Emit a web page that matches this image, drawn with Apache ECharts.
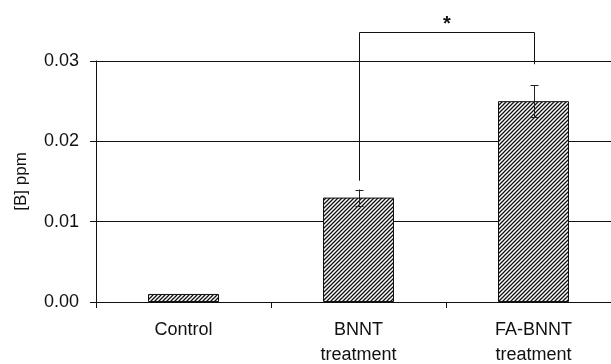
<!DOCTYPE html>
<html><head><meta charset="utf-8">
<script src="https://cdn.jsdelivr.net/npm/echarts@6/dist/echarts.min.js"></script>
<style>html,body{margin:0;padding:0;background:#fff}#c{width:611px;height:364px}</style>
</head><body><div id="c"></div>
<script>
var categories = ['Control', 'BNNT\ntreatment', 'FA-BNNT\ntreatment'];
var means = [0.001, 0.013, 0.025];
var errLow = [null, 0.012, 0.023];
var errHigh = [null, 0.014, 0.027];
var yTicks = [0, 0.01, 0.02, 0.03];
// significance bracket between categories 1 and 2
var bracketFrom = 1, bracketTo = 2;
var bracketLegs = [0.0151, 0.0296];
var bracketTop = 0.0336;
var bracketLabel = '*';

function hatch() {
  var s = 4, c = document.createElement('canvas');
  c.width = s; c.height = s;
  var g = c.getContext('2d');
  g.fillStyle = '#fff'; g.fillRect(0, 0, s, s);
  g.strokeStyle = '#111'; g.lineWidth = 1.3;
  g.beginPath();
  g.moveTo(0, s); g.lineTo(s, 0);
  g.moveTo(-1, 1); g.lineTo(1, -1);
  g.moveTo(s - 1, s + 1); g.lineTo(s + 1, s - 1);
  g.stroke();
  return c;
}

var chart = echarts.init(document.getElementById('c'));
var font = 'Liberation Sans, Arial, sans-serif';
chart.setOption({
  animation: false,
  grid: { left: 96, top: 61, bottom: 62, width: 525, outerBoundsMode: 'none', containLabel: false },
  xAxis: {
    type: 'category', data: categories, boundaryGap: true,
    axisLine: { lineStyle: { color: '#111', width: 1 } },
    axisTick: { show: true, length: 6, lineStyle: { color: '#111' } },
    axisLabel: { color: '#111', fontSize: 18, fontFamily: font, margin: 16, lineHeight: 25 }
  },
  yAxis: {
    type: 'value', min: yTicks[0], max: yTicks[yTicks.length - 1], interval: 0.01,
    name: '[B] ppm', nameLocation: 'middle', nameGap: 66, nameRotate: 90,
    nameTextStyle: { color: '#111', fontSize: 17, fontFamily: font },
    axisLine: { show: true, lineStyle: { color: '#111' } },
    axisTick: { show: true, length: 6, lineStyle: { color: '#111' } },
    axisLabel: { color: '#111', fontSize: 18, fontFamily: font, margin: 17,
      formatter: function (v) { return v.toFixed(2); } },
    splitLine: { show: true, lineStyle: { color: '#111', width: 1 } }
  },
  series: [
    {
      type: 'bar', data: means, barWidth: 71,
      itemStyle: { color: { image: hatch(), repeat: 'repeat' }, borderColor: '#111', borderWidth: 1 },
      z: 2
    },
    {
      type: 'custom', z: 5,
      data: means.map(function (m, i) { return [i, errLow[i], errHigh[i]]; }),
      renderItem: function (params, api) {
        if (api.value(1) == null || isNaN(api.value(1))) return null;
        var lo = api.coord([api.value(0), api.value(1)]);
        var hi = api.coord([api.value(0), api.value(2)]);
        var x = Math.round(hi[0]) + 0.5, w = 4;
        var st = { stroke: '#222', lineWidth: 1 };
        return { type: 'group', children: [
          { type: 'line', shape: { x1: x, y1: lo[1], x2: x, y2: hi[1] }, style: st },
          { type: 'line', shape: { x1: x - w, y1: Math.round(hi[1]) + 0.5, x2: x + w, y2: Math.round(hi[1]) + 0.5 }, style: st },
          { type: 'line', shape: { x1: x - w, y1: Math.round(lo[1]) + 0.5, x2: x + w, y2: Math.round(lo[1]) + 0.5 }, style: st }
        ] };
      }
    },
    {
      type: 'custom', z: 6,
      data: [[bracketFrom, bracketTo, bracketLegs[0], bracketLegs[1], bracketTop]],
      renderItem: function (params, api) {
        var a = api.coord([api.value(0), api.value(2)]);
        var b = api.coord([api.value(1), api.value(3)]);
        var t = api.coord([api.value(0), api.value(4)]);
        var xa = Math.round(a[0]) + 0.5, xb = Math.round(b[0]) + 0.5, yt = Math.round(t[1]) + 0.5;
        return { type: 'group', children: [
          { type: 'polyline', shape: { points: [[xa, a[1]], [xa, yt], [xb, yt], [xb, b[1]]] },
            style: { stroke: '#111', lineWidth: 1, fill: null } },
          { type: 'text', x: (xa + xb) / 2, y: yt + 2,
            style: { text: bracketLabel, fill: '#111', fontSize: 20, fontWeight: 'bold', fontFamily: font,
              align: 'center', verticalAlign: 'bottom' } }
        ] };
      }
    }
  ]
});
</script></body></html>
